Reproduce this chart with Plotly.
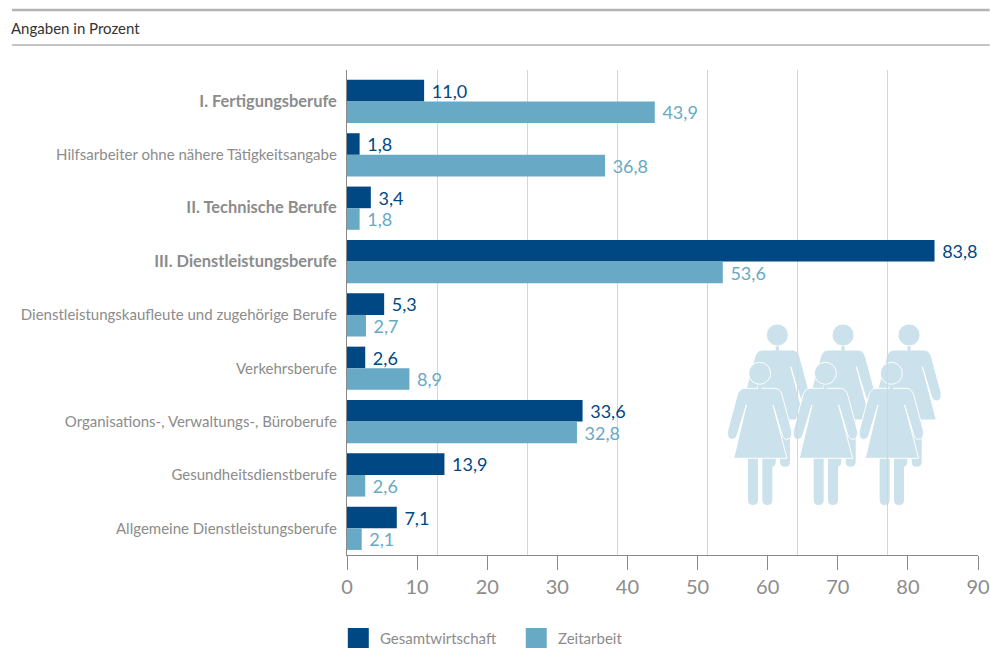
import plotly.graph_objects as go

BOLD = '<b style="font-size:16.4px">{}</b>'
categories = ["I. Fertigungsberufe", "Hilfsarbeiter ohne nähere Tätigkeitsangabe", "II. Technische Berufe",
              "III. Dienstleistungsberufe", "Dienstleistungskaufleute und zugehörige Berufe", "Verkehrsberufe",
              "Organisations-, Verwaltungs-, Büroberufe", "Gesundheitsdienstberufe", "Allgemeine Dienstleistungsberufe"]
bold_categories = ["I. Fertigungsberufe", "II. Technische Berufe", "III. Dienstleistungsberufe"]
gesamt = [11.0, 1.8, 3.4, 83.8, 5.3, 2.6, 33.6, 13.9, 7.1]
zeit = [43.9, 36.8, 1.8, 53.6, 2.7, 8.9, 32.8, 2.6, 2.1]
series_names = ["Gesamtwirtschaft", "Zeitarbeit"]
x_ticks = [0, 10, 20, 30, 40, 50, 60, 70, 80, 90]
grid_divisions = 7

NAVY, BLUE, PALE, GREY = "#004884", "#68a9c6", "#cbe1ec", "#8c8c8c"
FONT = "Lato"
W, H = 990, 648
L, R, T, B = 347.2, 978.4, 70, 555

def px(x): return (x - L) / (R - L)
def py(y): return (B - y) / (B - T)
def P(cmds, ox, oy):
    out = []
    for c in cmds:
        if len(c) == 1:
            out.append(c[0])
        else:
            pts = c[1:]
            out.append(c[0] + " ".join(f"{px(ox + pts[i] / 3):.5f},{py(oy + pts[i + 1] / 3):.5f}" for i in range(0, len(pts), 2)))
    return " ".join(out)

def woman(ox, oy):
    """pictogram, local units = 1/3 px relative to the head centre"""
    line = dict(color="white", width=1)
    s = []
    base = dict(type="path", xref="paper", yref="paper", fillcolor=PALE, line=line, layer="below")
    for a, b in [(-35, -5), (8, 38)]:
        s.append(dict(base, line=dict(width=0), path=P([("M", a, 250), ("L", b, 250), ("L", b, 380),
                      ("Q", b, 395, (a + b) / 2, 395), ("Q", a, 395, a, 380), ("Z",)], ox, oy)))
    s.append(dict(base, path=P([("M", -45, 45), ("L", 45, 45), ("Q", 62, 45, 68, 68), ("L", 96, 172),
                  ("Q", 99, 198, 82, 198), ("Q", 70, 198, 66, 180), ("L", 40, 95), ("L", 82, 255), ("L", -78, 255),
                  ("L", -40, 95), ("L", -66, 180), ("Q", -70, 198, -83, 198), ("Q", -99, 198, -96, 172),
                  ("L", -68, 68), ("Q", -62, 45, -45, 45), ("Z",)], ox, oy)))
    s.append(dict(base, line=dict(width=0), path=P([("M", -5, 25), ("L", 5, 25), ("L", 5, 47), ("L", -5, 47), ("Z",)], ox, oy)))
    s.append(dict(type="circle", xref="paper", yref="paper", fillcolor=PALE, line=line, layer="below",
                  x0=px(ox - 11), x1=px(ox + 11), y0=py(oy + 11), y1=py(oy - 11)))
    return s

shapes = []
for hx in (760, 825.7, 891.7):
    shapes += woman(hx + 17.7, 373.3 - 38.3)
for hx in (760, 825.7, 891.7):
    shapes += woman(hx, 373.3)

def rule(x0, x1, y, color, width):
    return dict(type="line", xref="paper", yref="paper", x0=px(x0), x1=px(x1), y0=py(y), y1=py(y), line=dict(color=color, width=width))
shapes += [rule(12, 990, 10, "#b4b4b4", 2.5), rule(12, 990, 45, "#8a8a8a", 1)]

annotations = [dict(text="Angaben in Prozent", xref="paper", yref="paper", x=px(9), y=py(28), xanchor="left", yanchor="middle",
                    showarrow=False, font=dict(family=FONT, size=15, color="#333333"))]
for name, color, sx, tx in zip(series_names, (NAVY, BLUE), (348, 526), (378, 556)):
    shapes.append(dict(type="rect", xref="paper", yref="paper", x0=px(sx), x1=px(sx + 21), y0=py(648), y1=py(628),
                       fillcolor=color, line=dict(width=0)))
    annotations.append(dict(text=name, xref="paper", yref="paper", x=px(tx), y=py(638), xanchor="left", yanchor="middle",
                            showarrow=False, font=dict(family=FONT, size=15, color=GREY)))

labels = [BOLD.format(c) if c in bold_categories else c for c in categories]

fig = go.Figure()
for name, vals, color in zip(series_names, (gesamt, zeit), (NAVY, BLUE)):
    fig.add_trace(go.Bar(y=labels, x=vals, name=name, orientation="h", marker=dict(color=color, line=dict(width=0)),
                         texttemplate=" %{x:.1f}", textposition="outside", cliponaxis=False,
                         textfont=dict(family=FONT, size=20, color=color), showlegend=False))
fig.add_trace(go.Scatter(x=[0, grid_divisions], y=labels[:2], xaxis="x2", mode="none", showlegend=False, hoverinfo="skip"))

fig.update_layout(
    width=W, height=H, margin=dict(l=L, r=W - R, t=T, b=H - B, pad=0, autoexpand=False), autosize=False,
    paper_bgcolor="white", plot_bgcolor="rgba(0,0,0,0)", barmode="group", bargap=0.19, bargroupgap=0,
    separators=", ", font=dict(family=FONT, color=GREY), shapes=shapes, annotations=annotations,
    xaxis=dict(range=[0, 90], tickmode="array", tickvals=x_ticks, ticks="outside", ticklen=14, tickcolor="#8a8a8a", tickwidth=1.3,
               showgrid=False, zeroline=False, showline=True, linecolor="#8a8a8a", linewidth=1.3, automargin=False,
               tickfont=dict(family=FONT, size=20, color=GREY)),
    xaxis2=dict(overlaying="x", side="bottom", range=[0, grid_divisions], dtick=1, showgrid=True, gridcolor="#d6d6d6", gridwidth=1.3,
                showticklabels=False, ticks="", zeroline=False, showline=False, automargin=False),
    yaxis=dict(type="category", categoryorder="array", categoryarray=labels, range=[8.5, -0.59], ticks="", ticklabelstandoff=6,
               showgrid=False, zeroline=False, showline=True, linecolor="#8a8a8a", linewidth=1.3, automargin=False,
               tickfont=dict(family=FONT, size=15, color=GREY)),
)
fig.write_html("out.html", config=dict(displayModeBar=False),
               post_script="document.body.style.margin='0';document.documentElement.style.overflow='hidden';")
